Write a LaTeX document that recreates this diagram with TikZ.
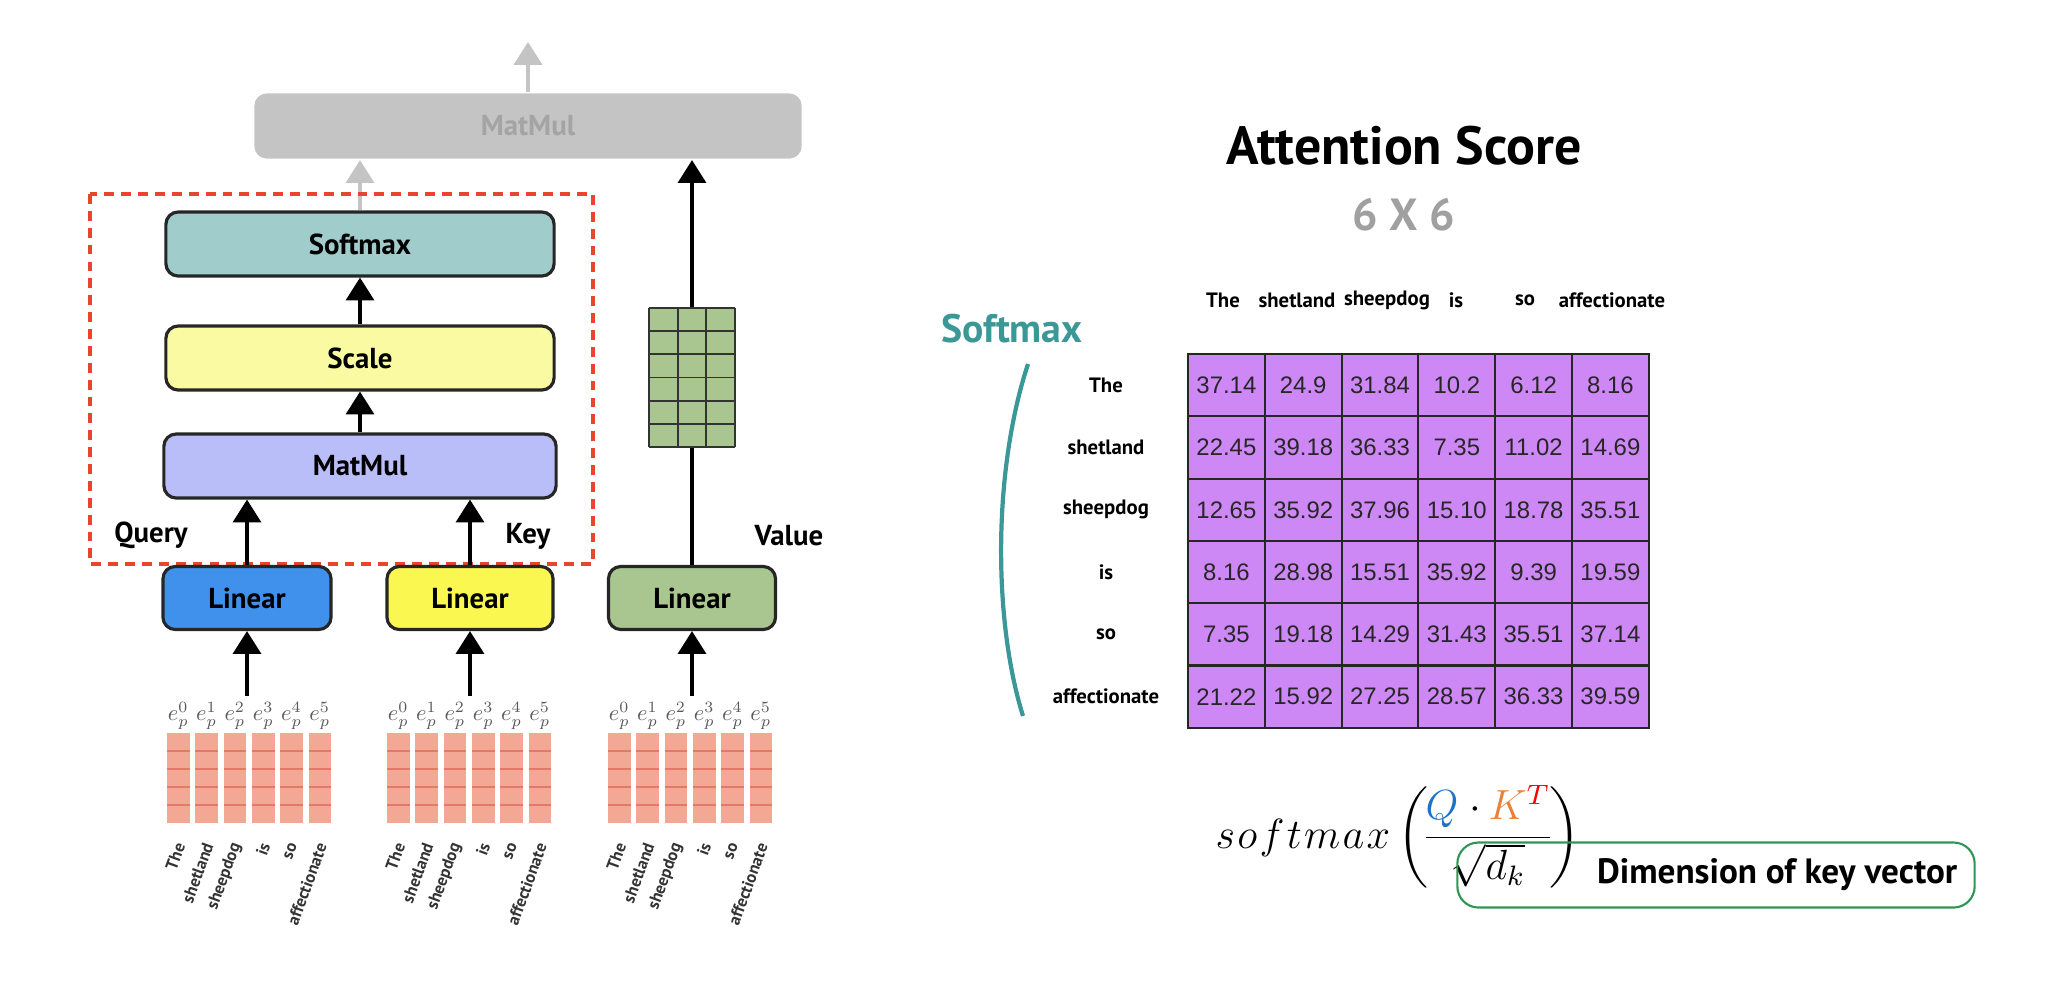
\documentclass[tikz,border=0pt]{standalone}
\usepackage{amsmath}
\usepackage[no-math]{fontspec}
\setmainfont{PT Sans}
\newfontfamily\numfont{Liberation Sans}
\usetikzlibrary{arrows.meta}

\definecolor{ghostfill}{RGB}{196,196,196}
\definecolor{ghosttext}{RGB}{164,164,164}
\definecolor{smfill}{RGB}{160,204,204}
\definecolor{scfill}{RGB}{250,250,162}
\definecolor{mmfill}{RGB}{186,190,248}
\definecolor{qblue}{RGB}{64,145,235}
\definecolor{kyellow}{RGB}{250,248,80}
\definecolor{vgreen}{RGB}{170,198,144}
\definecolor{dashred}{RGB}{232,68,46}
\definecolor{embfill}{RGB}{243,168,150}
\definecolor{embline}{RGB}{230,120,104}
\definecolor{sizegray}{RGB}{160,160,160}
\definecolor{tealtxt}{RGB}{60,152,150}
\definecolor{cellviolet}{RGB}{205,136,245}
\definecolor{qcol}{RGB}{30,114,200}
\definecolor{kcol}{RGB}{232,130,58}
\definecolor{boxgreen}{RGB}{46,150,84}

\tikzset{
  block/.style={draw=black!85, line width=0.9pt, rounded corners=3.5pt, minimum height=0.64cm,
    font=\bfseries\fontsize{8.2}{9}\selectfont},
  flow/.style={-{Triangle[width=8pt,length=6.5pt]}, line width=0.9pt},
  ghost/.style={flow, draw=ghostfill, fill=ghostfill},
  tag/.style={font=\bfseries\fontsize{8.2}{9}\selectfont},
  word/.style={font=\bfseries\fontsize{4.8}{5}\selectfont, text=black!80, rotate=70, anchor=east, inner sep=0pt},
  cell/.style={draw=black!85, line width=0.6pt, fill=cellviolet, minimum width=0.768cm, minimum height=0.623cm,
    inner sep=0pt, font=\numfont\fontsize{6.8}{8}\selectfont, text=black!85},
  hdr/.style={font=\bfseries\fontsize{5.9}{7}\selectfont, inner sep=1pt},
}

\begin{document}
\begin{tikzpicture}[x=0.01cm, y=-0.01cm]
  \useasboundingbox (0,0) rectangle (2048,996);

  % faded next step
  \node[block, draw=none, fill=ghostfill, text=ghosttext, minimum width=5.47cm, minimum height=0.65cm] (out) at (528,126) {MatMul};
  \coordinate (outtip) at (528,42);
  \draw[ghost] (out.north) -- (outtip);

  % scaled dot-product part
  \node[block, fill=smfill, minimum width=3.88cm] (sm) at (360,244) {Softmax};
  \node[block, fill=scfill, minimum width=3.88cm] (sc) at (360,358) {Scale};
  \node[block, fill=mmfill, minimum width=3.92cm] (mm) at (360,466) {MatMul};
  \draw[flow] (sc) -- (sm);
  \draw[flow] (mm) -- (sc);
  \draw[ghost] (sm.north) -- (sm.north |- out.south);
  \draw[dashred, line width=1.4pt, dash pattern=on 2.8pt off 2pt] (90,194) rectangle (593,564);

  \node[block, fill=qblue, minimum width=1.68cm, minimum height=0.63cm] (q) at (247,598) {Linear};
  \node[block, fill=kyellow, minimum width=1.66cm, minimum height=0.63cm] (k) at (470,598) {Linear};
  \node[block, fill=vgreen, minimum width=1.67cm, minimum height=0.63cm] (v) at (692,598) {Linear};
  \draw[flow] (q.north) -- (q.north |- mm.south);
  \draw[flow] (k.north) -- (k.north |- mm.south);
  \draw[flow] (v.north) -- (v.north |- out.south);

  \node[tag] (qlab) at (151,535) {Query};
  \node[tag] (klab) at (528,536) {Key};
  \node[tag] (vlab) at (789,536) {Value};

  % value matrix
  \fill[vgreen] (649,308) rectangle (735,447);
  \foreach \i in {0,...,3}
    \draw[line width=0.5pt, black!80] ({649+28.67*\i},308) -- ({649+28.67*\i},447);
  \foreach \j in {0,...,6}
    \draw[line width=0.5pt, black!80] (649,{308+23.17*\j}) -- (735,{308+23.17*\j});

  % embeddings
  \foreach \gx/\lin in {167/q,387/k,608/v} {
    \foreach \col [evaluate={\cx=\gx+28.3*\col}] in {0,...,5} {
      \fill[embfill] (\cx,733) rectangle ++(22.7,90);
      \foreach \row in {1,...,4}
        \draw[embline, line width=0.6pt] (\cx,{733+18*\row}) -- ++(22.7,0);
      \node[text=black!65, inner sep=0pt] (e-\lin-\col) at ({\cx+11.35},716) {\scalebox{0.64}{$e_p^{\col}$}};
    }
    \foreach \w [count=\n from 0] in {The,shetland,sheepdog,is,so,affectionate}
      \node[word] (w-\lin-\n) at ({\gx+13.3+28.3*\n},843) {\w};
    \path (\lin.south) ++(0,65) coordinate (\lin-in);
    \draw[flow] (\lin-in) -- (\lin.south);
  }

  % attention score
  \node[font=\bfseries\fontsize{15.3}{18}\selectfont] (title) at (1404,146) {Attention Score};
  \node[font=\bfseries\fontsize{12.8}{14}\selectfont, text=sizegray] (dims) at (1404,215) {6 X 6};
  \node[font=\bfseries\fontsize{11.3}{13}\selectfont, text=tealtxt] (smlab) at (1012,329) {Softmax};
  \draw[tealtxt, line width=1.2pt] (1028,364) .. controls (993,470) and (993,620) .. (1023,716);

  \foreach \w/\hx [count=\col from 0] in {The/1223,shetland/1297,sheepdog/1387,is/1456,so/1525,affectionate/1612} {
    \node[hdr] (h-\col) at (\hx,300) {\w};
    \node[hdr] (r-\col) at (1106,{385.2+62.3*\col}) {\w};
  }
  \foreach \vals [count=\row from 0] in {{37.14,24.9,31.84,10.2,6.12,8.16},
      {22.45,39.18,36.33,7.35,11.02,14.69},{12.65,35.92,37.96,15.10,18.78,35.51},
      {8.16,28.98,15.51,35.92,9.39,19.59},{7.35,19.18,14.29,31.43,35.51,37.14},
      {21.22,15.92,27.25,28.57,36.33,39.59}}
    \foreach \v [count=\col from 0] in \vals
      \node[cell] (m-\row-\col) at ({1226.4+76.8*\col},{385.2+62.3*\row}) {\v};

  % formula
  \node[anchor=base west, inner sep=0pt, font=\fontsize{12}{14}\selectfont] (formula) at (1215,848)
    {$s\mkern1mu o\mkern1mu f\mkern1mu t\mkern1mu m\mkern1mu a\mkern1mu x\left(\mkern-3mu
      \dfrac{{\color{qcol}Q}\;{\cdot}\,{\color{kcol}K}^{\color{red}T}}{\sqrt{d_k}}\mkern-2mu\right)$};
  \node[draw=boxgreen, line width=0.6pt, rounded corners=6pt, minimum width=5.17cm, minimum height=0.65cm] (dimbox) at (1716,875) {};
  \node[font=\bfseries\fontsize{10}{12}\selectfont, anchor=east] (dimtxt) at ([xshift=-0.06cm]dimbox.east) {Dimension of key vector};
\end{tikzpicture}
\end{document}
